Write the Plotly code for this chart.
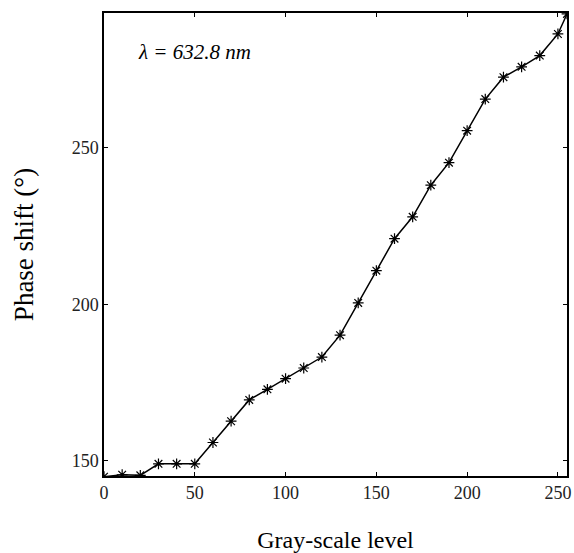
import plotly.graph_objects as go

gray_level = [0, 10, 20, 30, 40, 50, 60, 70, 80, 90, 100, 110, 120, 130, 140,
              150, 160, 170, 180, 190, 200, 210, 220, 230, 240, 250, 255]
phase_shift = [145.0, 145.6, 145.4, 149.1, 149.1, 149.1, 155.9, 162.7, 169.5, 172.9,
               176.3, 179.7, 183.2, 190.2, 200.5, 210.8, 221.0, 228.0, 238.1, 245.3,
               255.5, 265.6, 272.6, 275.9, 279.5, 286.4, 292.8]

x_ticks = [0, 50, 100, 150, 200, 250]
y_ticks = [150, 200, 250]

font_family = "Liberation Serif, Times New Roman, serif"

fig = go.Figure()
fig.add_trace(go.Scatter(
    x=gray_level, y=phase_shift, mode="lines+markers",
    line=dict(color="black", width=1.5),
    marker=dict(symbol="asterisk-open", size=9, color="black",
                line=dict(color="black", width=1.2)),
    showlegend=False,
))

axis_common = dict(
    showline=True, linecolor="black", linewidth=1.5, mirror="ticks",
    ticks="inside", ticklen=4, tickcolor="black", tickwidth=1,
    showgrid=False, zeroline=False,
    tickfont=dict(family=font_family, size=18, color="#222"),
)

fig.update_layout(
    width=574, height=553,
    margin=dict(l=104, r=3, t=13, b=76),
    paper_bgcolor="white", plot_bgcolor="white",
    font=dict(family=font_family, color="black"),
    xaxis=dict(range=[0, 255], tickvals=x_ticks,
               title=dict(text="Gray-scale level", font=dict(family=font_family, size=24),
                          standoff=30),
               **axis_common),
    yaxis=dict(range=[145.2, 293.1], tickvals=y_ticks,
               title=dict(text="Phase shift (°)", font=dict(family=font_family, size=27),
                          standoff=30),
               **axis_common),
    annotations=[dict(
        x=0.07, y=0.915, xref="paper", yref="paper", xanchor="left", yanchor="middle",
        text="<i>λ = 632.8 nm</i>", showarrow=False,
        font=dict(family=font_family, size=21, color="black"),
    )],
)

fig.write_html("out.html", config={"displayModeBar": False},
               post_script="document.body.style.margin='0';document.body.style.overflow='hidden';")
